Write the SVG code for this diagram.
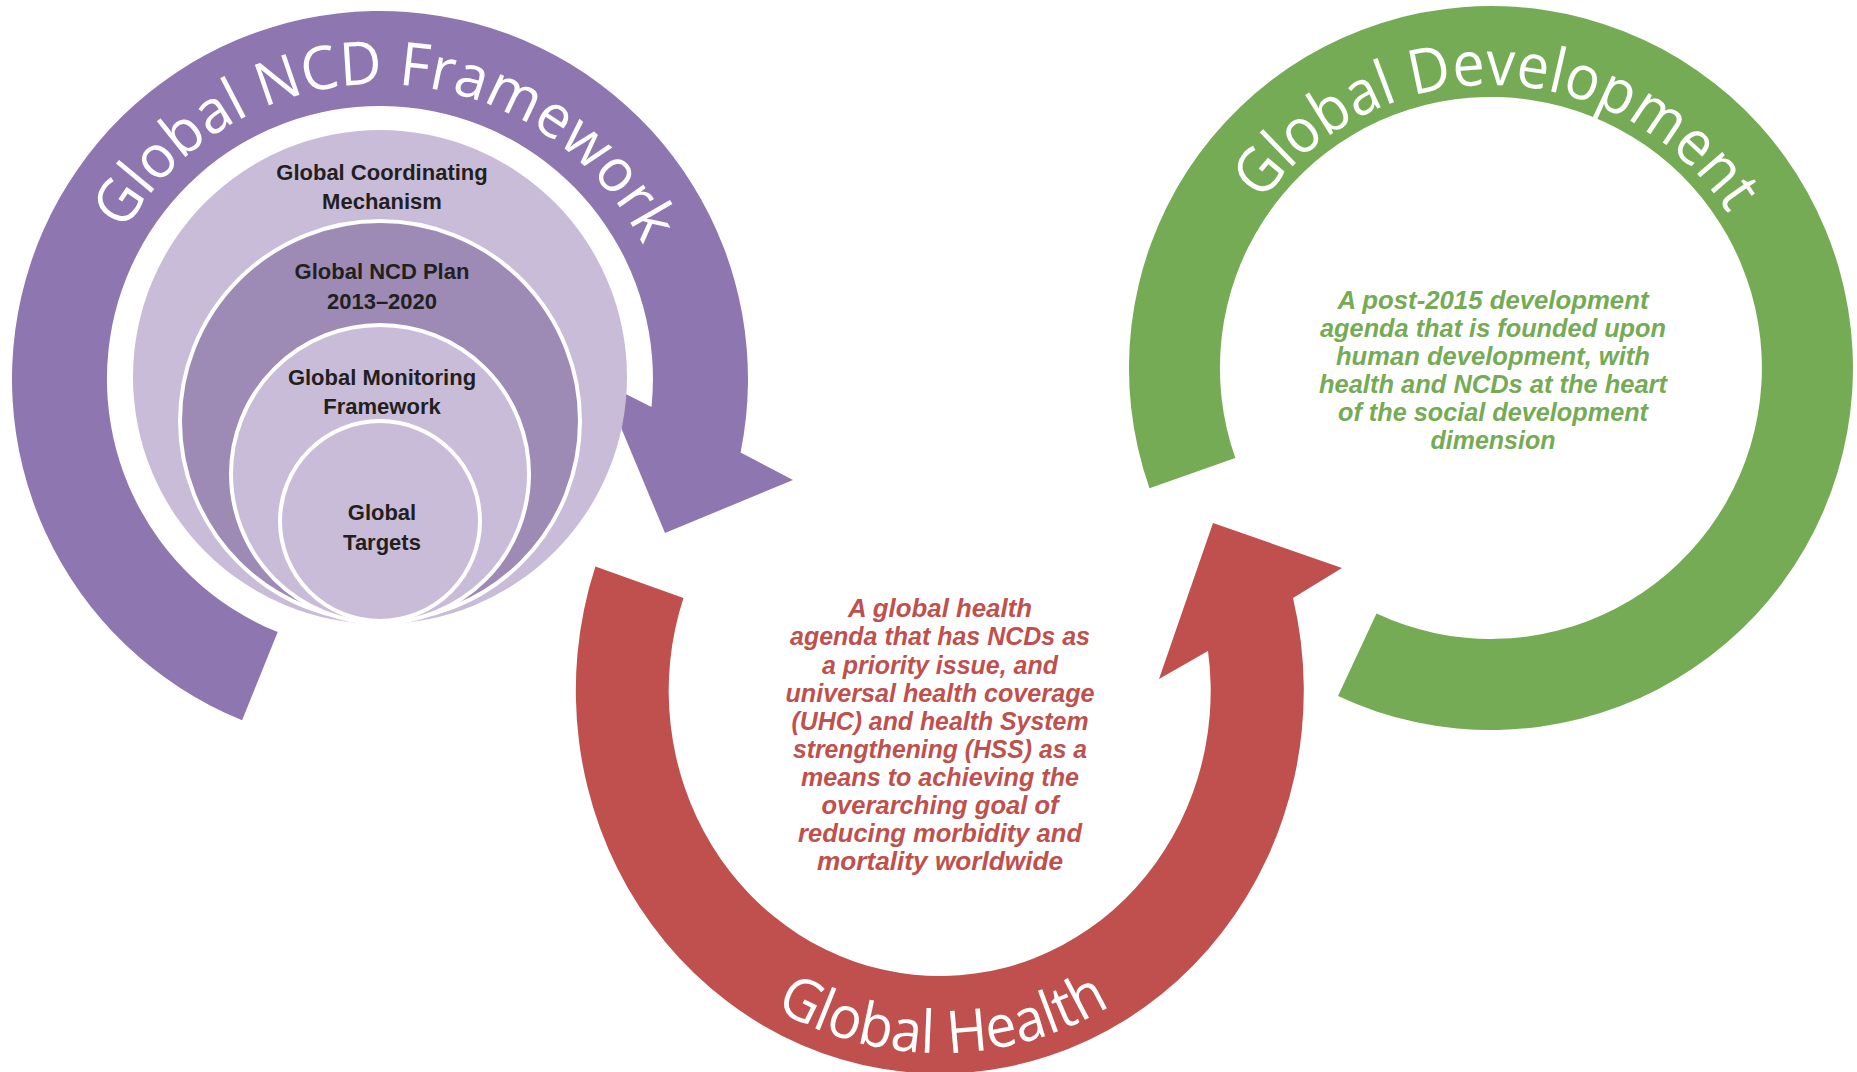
<svg xmlns="http://www.w3.org/2000/svg" width="1857" height="1072" viewBox="0 0 1857 1072">
  <style>
    .arcLabel { font-family: "Open Sans", "Noto Sans", "Liberation Sans", sans-serif; fill: #ffffff; }
    .inner { font-family: "Liberation Sans", Arial, sans-serif; font-weight: bold; font-size: 22px; fill: #231f20; text-anchor: middle; }
    .desc { font-family: "Liberation Sans", Arial, sans-serif; font-weight: bold; font-style: italic; font-size: 25px; text-anchor: middle; }
    .red { fill: #c0504d; }
    .green { fill: #76ab55; }
    .light { fill: #c9bcd9; }
    .mid { fill: #9d8bb5; }
    .ringline { stroke: #ffffff; stroke-width: 4; }
  </style>
  <defs>
    <path id="purpleTextPath" d="M 85 379 A 295 295 0 0 1 675 379"/>
    <path id="greenTextPath" d="M 1208 368 A 283 283 0 0 1 1774 368"/>
    <path id="redTextPath" d="M 615.8 814.2 A 345 363 0 0 0 1264.2 814.2"/>
  </defs>
  <rect x="0" y="0" width="1857" height="1072" fill="#ffffff"/>

  <g id="connectors">
    <path id="purple-arrow" fill="#8e77b0" d="M 242.1 720.2 A 368 368 0 1 1 740.6 452.4 L 793 480 L 665 533 L 602 382 L 651.5 407 A 273 273 0 1 0 277.7 632.1 Z"/>
    <path id="red-arrow" class="red" d="M 595.4 566.6 A 364 383 0 1 0 1293 598 L 1342 568 L 1213 523 L 1159 679 L 1208 651 A 271 285 0 1 1 683.5 598.1 Z"/>
    <path id="green-ring" class="green" d="M 1149.5 488.2 A 362 362 0 1 1 1338 696.1 L 1376.5 613.6 A 271 271 0 1 0 1235.3 458 Z"/>
  </g>

  <g id="node-ncd-framework">
    <text class="arcLabel" font-size="60" transform="rotate(1.5 380 379)"><textPath href="#purpleTextPath" startOffset="50%" text-anchor="middle" textLength="633" lengthAdjust="spacingAndGlyphs">Global NCD Framework</textPath></text>
  </g>

  <g id="node-coordinating">
    <circle class="light" cx="380" cy="377" r="247"/>
    <text class="inner" x="382" y="180">Global Coordinating</text>
    <text class="inner" x="382" y="209">Mechanism</text>
  </g>
  <g id="node-plan">
    <circle class="mid ringline" cx="380" cy="421" r="200"/>
    <text class="inner" x="382" y="279">Global NCD Plan</text>
    <text class="inner" x="382" y="309">2013–2020</text>
  </g>
  <g id="node-monitoring">
    <circle class="light ringline" cx="380" cy="474" r="149"/>
    <text class="inner" x="382" y="385">Global Monitoring</text>
    <text class="inner" x="382" y="414">Framework</text>
  </g>
  <g id="node-targets">
    <circle class="light ringline" cx="380" cy="521" r="100"/>
    <text class="inner" x="382" y="520">Global</text>
    <text class="inner" x="382" y="550">Targets</text>
  </g>

  <g id="node-global-development">
    <text class="arcLabel" font-size="62" transform="rotate(1.5 1491 368)"><textPath href="#greenTextPath" startOffset="50%" text-anchor="middle" textLength="548" lengthAdjust="spacingAndGlyphs">Global Development</textPath></text>
    <g class="desc green">
      <text x="1493" y="309" textLength="311" lengthAdjust="spacingAndGlyphs">A post-2015 development</text>
      <text x="1493" y="337" textLength="346" lengthAdjust="spacingAndGlyphs">agenda that is founded upon</text>
      <text x="1493" y="365" textLength="314" lengthAdjust="spacingAndGlyphs">human development, with</text>
      <text x="1493" y="393" textLength="348" lengthAdjust="spacingAndGlyphs">health and NCDs at the heart</text>
      <text x="1493" y="421" textLength="310" lengthAdjust="spacingAndGlyphs">of the social development</text>
      <text x="1493" y="449" textLength="125" lengthAdjust="spacingAndGlyphs">dimension</text>
    </g>
  </g>

  <g id="node-global-health">
    <text class="arcLabel" font-size="59" transform="rotate(-0.5 940 690)"><textPath href="#redTextPath" startOffset="50%" text-anchor="middle" textLength="352" lengthAdjust="spacingAndGlyphs">Global Health</textPath></text>
    <g class="desc red">
      <text x="940" y="617" textLength="184" lengthAdjust="spacingAndGlyphs">A global health</text>
      <text x="940" y="645" textLength="300" lengthAdjust="spacingAndGlyphs">agenda that has NCDs as</text>
      <text x="940" y="674" textLength="236" lengthAdjust="spacingAndGlyphs">a priority issue, and</text>
      <text x="940" y="702" textLength="309" lengthAdjust="spacingAndGlyphs">universal health coverage</text>
      <text x="940" y="730" textLength="297" lengthAdjust="spacingAndGlyphs">(UHC) and health System</text>
      <text x="940" y="758" textLength="294" lengthAdjust="spacingAndGlyphs">strengthening (HSS) as a</text>
      <text x="940" y="786" textLength="278" lengthAdjust="spacingAndGlyphs">means to achieving the</text>
      <text x="940" y="814" textLength="237" lengthAdjust="spacingAndGlyphs">overarching goal of</text>
      <text x="940" y="842" textLength="284" lengthAdjust="spacingAndGlyphs">reducing morbidity and</text>
      <text x="940" y="870" textLength="246" lengthAdjust="spacingAndGlyphs">mortality worldwide</text>
    </g>
  </g>
</svg>
